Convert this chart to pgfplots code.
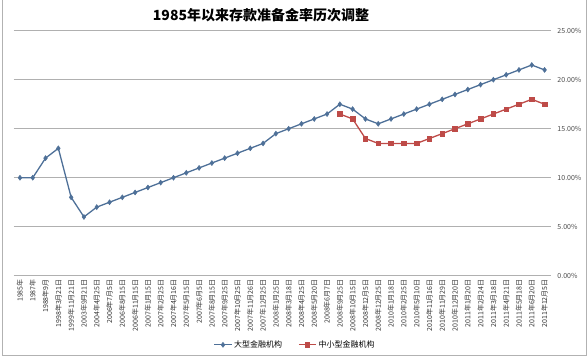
\documentclass[border=0pt]{standalone}
\usepackage{pgfplots}
\pgfplotsset{compat=1.18}
\usepackage{fontspec}
\setmainfont{Noto Sans CJK SC}
\definecolor{bigblue}{HTML}{4E7098}
\definecolor{smallred}{HTML}{BE4B48}
\definecolor{gridgray}{HTML}{B0B0B0}
\begin{document}
\begin{tikzpicture}[x=1pt,y=1pt]
\useasboundingbox (0,0) rectangle (588,360);
\draw[gray!60, line width=0.8pt] (2,360) -- (2,5) -- (586,5) -- (586,360);
\node[font=\bfseries\fontsize{14}{16}\selectfont] at (261,345) {1985年以来存款准备金率历次调整};
\begin{axis}[
  at={(10.6,86)}, anchor=south west,
  scale only axis, width=537.4pt, height=245pt,
  xmin=-0.5, xmax=41.5, ymin=0, ymax=25,
  axis line style={draw=none},
  tick style={draw=none},
  ytick={0,5,10,15,20,25},
  ymajorgrids, major grid style={gridgray, line width=0.9pt},
  yticklabel pos=right,
  yticklabel={\pgfmathprintnumber[fixed,fixed zerofill,precision=2]{\tick}\%},
  /pgf/number format/assume math mode=true,
  yticklabel style={font=\fontsize{7}{8}\selectfont, text=black!70, xshift=3pt},
  xtick={0,...,41},
  xticklabels={1985年,1987年,1988年9月,1998年3月21日,1999年11月21日,2003年9月21日,2004年4月25日,2006年7月5日,2006年8月15日,2006年11月15日,2007年1月15日,2007年2月25日,2007年4月16日,2007年5月15日,2007年6月5日,2007年8月15日,2007年9月25日,2007年10月25日,2007年11月26日,2007年12月25日,2008年1月25日,2008年3月18日,2008年4月25日,2008年5月20日,2008年6月7日,2008年9月25日,2008年10月15日,2008年12月5日,2008年12月25日,2010年1月18日,2010年2月25日,2010年5月10日,2010年11月16日,2010年11月29日,2010年12月20日,2011年1月20日,2011年2月24日,2011年3月18日,2011年4月21日,2011年5月18日,2011年6月20日,2011年12月5日},
  xticklabel style={rotate=90, anchor=east, font=\fontsize{7}{8}\selectfont, text=black!80},
  legend columns=2,
  legend style={at={(0.524,-0.282)}, anchor=center, draw=none, fill=none,
    font=\fontsize{8}{9}\selectfont, /tikz/every even column/.append style={column sep=14pt}},
]
\addplot[bigblue, line width=1.3pt, mark=diamond*, mark size=2.5pt, mark options={fill=bigblue, line width=0.5pt}] coordinates {
(0,10) (1,10) (2,12) (3,13) (4,8) (5,6) (6,7) (7,7.5) (8,8) (9,8.5)
(10,9) (11,9.5) (12,10) (13,10.5) (14,11) (15,11.5) (16,12) (17,12.5) (18,13) (19,13.5)
(20,14.5) (21,15) (22,15.5) (23,16) (24,16.5) (25,17.5) (26,17) (27,16) (28,15.5) (29,16)
(30,16.5) (31,17) (32,17.5) (33,18) (34,18.5) (35,19) (36,19.5) (37,20) (38,20.5) (39,21)
(40,21.5) (41,21)};
\addlegendentry{大型金融机构}
\addplot[smallred, line width=1.3pt, mark=square*, mark size=2.3pt, mark options={fill=smallred, line width=0.5pt}] coordinates {
(25,16.5) (26,16) (27,14) (28,13.5) (29,13.5) (30,13.5) (31,13.5) (32,14) (33,14.5) (34,15)
(35,15.5) (36,16) (37,16.5) (38,17) (39,17.5) (40,18) (41,17.5)};
\addlegendentry{中小型金融机构}
\end{axis}
\end{tikzpicture}
\end{document}
